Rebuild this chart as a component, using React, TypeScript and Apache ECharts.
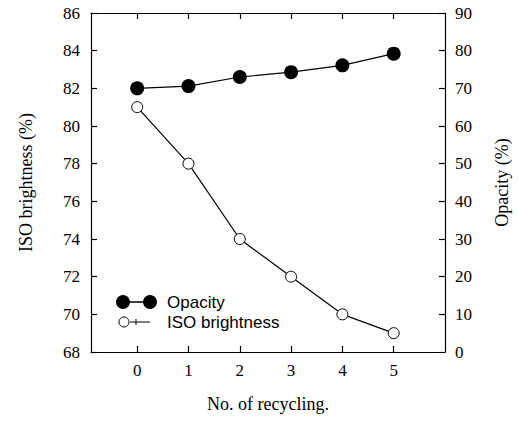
import React, { useEffect, useRef } from "react";
import * as echarts from "echarts";

const cycles = [0, 1, 2, 3, 4, 5];
const opacity = [70.0, 70.6, 73.0, 74.3, 76.1, 79.2];
const brightness = [81, 78, 74, 72, 70, 69];
const leftTicks = { min: 68, max: 86, interval: 2 };
const rightTicks = { min: 0, max: 90, interval: 10 };

const serif = "Liberation Serif";
const sans = "Liberation Sans";

export default function App() {
  const ref = useRef<HTMLDivElement>(null);
  useEffect(() => {
    if (!ref.current) return;
    const chart = echarts.init(ref.current, null, { renderer: "svg" });
    const axisLine = { show: true, onZero: false, lineStyle: { color: "#000", width: 1.2 } };
    const tickStyle = { color: "#000", width: 1.2 };
    const rich = { s: { color: "#000", fontFamily: serif, fontSize: 17 } };
    const labelStyle = {
      color: "#000",
      fontFamily: serif,
      fontSize: 17,
      formatter: (v: number) => `{s|${v}}`,
      rich,
    };
    chart.setOption({
      animation: false,
      backgroundColor: "#fff",
      textStyle: { fontFamily: serif, color: "#000" },
      grid: { left: 91, right: 74, top: 13, bottom: 72 },
      xAxis: [
        {
          type: "value",
          position: "bottom",
          min: -0.9,
          max: 6,
          axisLine,
          splitLine: { show: false },
          axisTick: { show: true, inside: true, length: 6, lineStyle: tickStyle, customValues: cycles },
          axisLabel: { ...labelStyle, customValues: cycles, margin: 10 },
          name: "No. of recycling.",
          nameLocation: "middle",
          nameGap: 43,
          nameTextStyle: { color: "#000", fontFamily: serif, fontSize: 18 },
        },
        {
          type: "value",
          position: "top",
          min: -0.9,
          max: 6,
          axisLine,
          splitLine: { show: false },
          axisTick: { show: true, inside: true, length: 6, lineStyle: tickStyle, customValues: cycles },
          axisLabel: { show: false },
        },
      ],
      yAxis: [
        {
          type: "value",
          position: "left",
          min: leftTicks.min,
          max: leftTicks.max,
          interval: leftTicks.interval,
          axisLine,
          splitLine: { show: false },
          axisTick: { show: true, inside: true, length: 6, lineStyle: tickStyle },
          axisLabel: { ...labelStyle, margin: 11 },
          name: "ISO brightness (%)",
          nameLocation: "middle",
          nameGap: 56,
          nameTextStyle: { color: "#000", fontFamily: serif, fontSize: 18 },
        },
        {
          type: "value",
          position: "right",
          min: rightTicks.min,
          max: rightTicks.max,
          interval: rightTicks.interval,
          axisLine,
          splitLine: { show: false },
          axisTick: { show: true, inside: true, length: 6, lineStyle: tickStyle },
          axisLabel: { ...labelStyle, margin: 10 },
          name: "Opacity (%)",
          nameLocation: "middle",
          nameGap: 48,
          nameRotate: 90,
          nameTextStyle: { color: "#000", fontFamily: serif, fontSize: 18 },
        },
      ],
      series: [
        {
          name: "Opacity",
          type: "line",
          xAxisIndex: 0,
          yAxisIndex: 1,
          data: cycles.map((c, i) => [c, opacity[i]]),
          symbol: "circle",
          symbolSize: 14,
          itemStyle: { color: "#000" },
          lineStyle: { color: "#000", width: 1.2 },
        },
        {
          name: "ISO brightness",
          type: "line",
          xAxisIndex: 0,
          yAxisIndex: 0,
          data: cycles.map((c, i) => [c, brightness[i]]),
          symbol: "circle",
          symbolSize: 11,
          itemStyle: { color: "#fff", borderColor: "#000", borderWidth: 1 },
          lineStyle: { color: "#000", width: 1.2 },
        },
      ],
      graphic: [
        {
          type: "group",
          left: 116,
          top: 294,
          children: [
            { type: "line", shape: { x1: 7, y1: 8, x2: 34, y2: 8 }, style: { stroke: "#000", lineWidth: 1.5 } },
            { type: "circle", shape: { cx: 7, cy: 8, r: 7 }, style: { fill: "#000" } },
            { type: "circle", shape: { cx: 34, cy: 8, r: 7 }, style: { fill: "#000" } },
            { type: "text", x: 51, y: 0, style: { text: "Opacity", fill: "#000", fontFamily: sans, fontSize: 17 } },
            { type: "line", shape: { x1: 14, y1: 28, x2: 34, y2: 28 }, style: { stroke: "#000", lineWidth: 1 } },
            { type: "line", shape: { x1: 20, y1: 25, x2: 20, y2: 31 }, style: { stroke: "#000", lineWidth: 1 } },
            { type: "circle", shape: { cx: 8, cy: 28, r: 5 }, style: { fill: "#fff", stroke: "#000", lineWidth: 1 } },
            { type: "text", x: 51, y: 20, style: { text: "ISO brightness", fill: "#000", fontFamily: sans, fontSize: 17 } },
          ],
        },
      ],
    });
    return () => chart.dispose();
  }, []);
  return (
    <div
      ref={ref}
      style={{ position: "fixed", left: 0, top: 0, width: 519, height: 424, background: "#fff" }}
    />
  );
}
